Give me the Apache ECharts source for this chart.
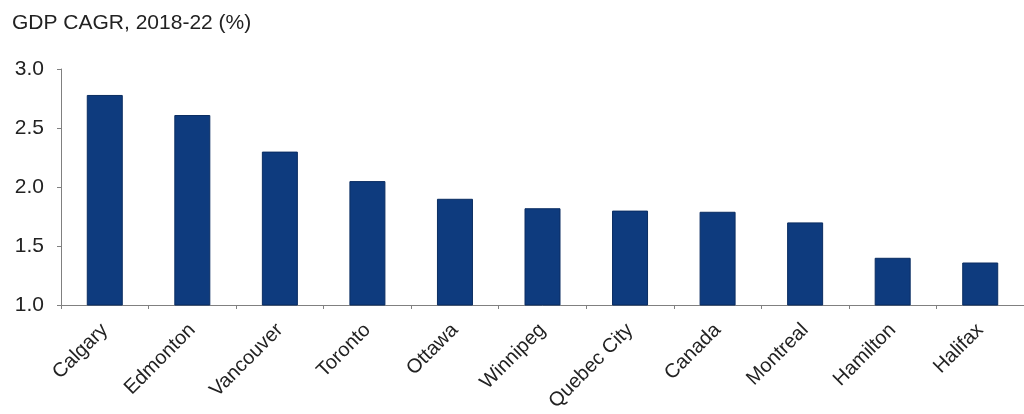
<!DOCTYPE html>
<html>
<head>
<meta charset="utf-8">
<script src="https://cdn.jsdelivr.net/npm/echarts@6/dist/echarts.min.js"></script>
<style>
  html, body { margin: 0; padding: 0; background: #fff; }
  #chart { width: 1024px; height: 414px; }
</style>
</head>
<body>
<div id="chart"></div>
<script>
// Average annual GDP growth by metro area, 2018-22
const cities = ['Calgary', 'Edmonton', 'Vancouver', 'Toronto', 'Ottawa', 'Winnipeg',
  'Quebec City', 'Canada', 'Montreal', 'Hamilton', 'Halifax'];
const cagr = [2.78, 2.61, 2.30, 2.05, 1.90, 1.82, 1.80, 1.79, 1.70, 1.40, 1.36];
const yTicks = [1.0, 1.5, 2.0, 2.5, 3.0];

const font = 'Liberation Sans, Arial, sans-serif';
const chart = echarts.init(document.getElementById('chart'), null, { renderer: 'canvas' });

chart.setOption({
  animation: false,
  title: {
    text: 'GDP CAGR, 2018-22 (%)',
    left: 7,
    top: 8,
    textStyle: { fontFamily: font, fontSize: 21, fontWeight: 'normal', color: '#222' }
  },
  grid: { left: 61, right: -7, top: 69, bottom: 109, containLabel: false },
  xAxis: {
    type: 'category',
    data: cities,
    axisLine: { lineStyle: { color: '#808080', width: 1 } },
    axisTick: { show: true, alignWithLabel: false, length: 4, lineStyle: { color: '#808080' } },
    axisLabel: {
      rotate: 45,
      margin: 22,
      interval: 0,
      fontFamily: font,
      fontSize: 20,
      color: '#222'
    }
  },
  yAxis: {
    type: 'value',
    min: yTicks[0],
    max: yTicks[yTicks.length - 1],
    interval: 0.5,
    splitLine: { show: false },
    axisLine: { show: true, lineStyle: { color: '#808080', width: 1 } },
    axisTick: { show: true, length: 4, lineStyle: { color: '#808080' } },
    axisLabel: {
      margin: 17,
      fontFamily: font,
      fontSize: 21,
      color: '#222',
      formatter: v => v.toFixed(1)
    }
  },
  series: [{
    type: 'bar',
    data: cagr,
    barWidth: 36,
    itemStyle: { color: '#0e3b7e', borderColor: '#0a2d62', borderWidth: 1 }
  }]
});
</script>
</body>
</html>
